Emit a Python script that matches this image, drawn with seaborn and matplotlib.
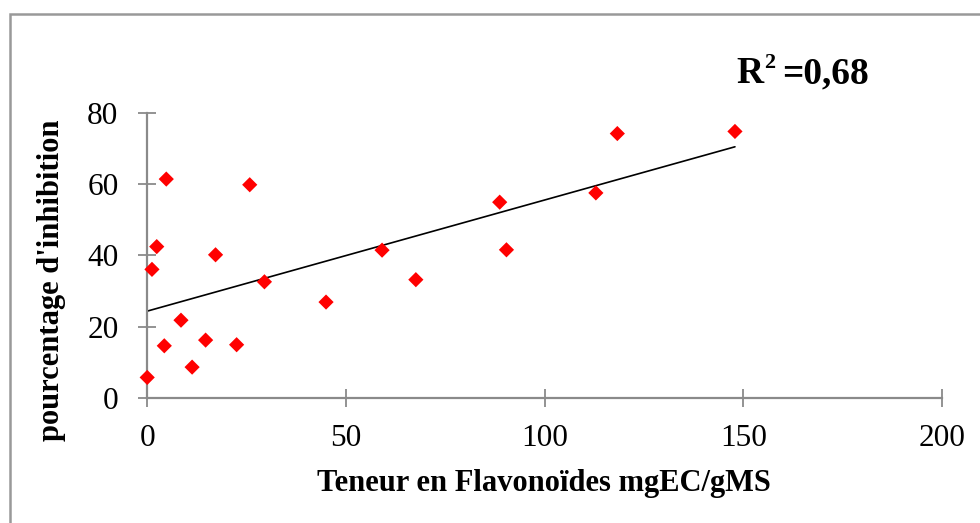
import numpy as np
import pandas as pd
import matplotlib
matplotlib.use("Agg")
import matplotlib.pyplot as plt
from matplotlib.patches import Rectangle
import seaborn as sns

# Flavonoid content (mgEC/gMS) and inhibition percentage for each extract
flavonoides = [0.0, 1.2, 2.4, 4.3, 4.8, 8.5, 11.3, 14.7, 17.2, 22.5, 25.8, 29.5,
               45.0, 59.1, 67.6, 88.7, 90.4, 112.9, 118.3, 147.9]
inhibition = [5.7, 36.1, 42.5, 14.6, 61.5, 21.8, 8.6, 16.2, 40.2, 14.9, 59.9, 32.6,
              26.9, 41.5, 33.2, 55.0, 41.6, 57.6, 74.3, 74.9]
x_ticks = [0, 50, 100, 150, 200]
y_ticks = [0, 20, 40, 60, 80]
r2_value = "=0,68"

df = pd.DataFrame({"flavonoides": flavonoides, "inhibition": inhibition})

sns.set_theme(style="white")
plt.rcParams["font.family"] = ["Liberation Serif", "DejaVu Serif"]

W, H = 980, 523
fig = plt.figure(figsize=(W / 100, H / 100), dpi=100)
ax = fig.add_axes([147.2 / W, 1 - 397.7 / H, (942 - 147.2) / W, (397.7 - 113.3) / H])


def fx(px):
    return px / W


def fy(py):
    return 1 - py / H


# linear trend line over the observed range
slope, intercept = np.polyfit(df["flavonoides"], df["inhibition"], 1)
xs = np.array([df["flavonoides"].min(), df["flavonoides"].max()])
ax.plot(xs, slope * xs + intercept, color="black", lw=1.2, zorder=2)

sns.scatterplot(data=df, x="flavonoides", y="inhibition", ax=ax, marker="D",
                color="#ff0000", edgecolor="none", s=60, zorder=3, clip_on=False)

ax.set_xlim(0, 200)
ax.set_ylim(0, 80)
ax.set_xticks(x_ticks)
ax.set_yticks(y_ticks)
ax.set_xticklabels([str(t) for t in x_ticks])
ax.set_yticklabels([str(t) for t in y_ticks])

for side in ["top", "right"]:
    ax.spines[side].set_visible(False)
for side in ["left", "bottom"]:
    ax.spines[side].set_color("#8a8a8a")
    ax.spines[side].set_linewidth(1.6)
ax.tick_params(axis="both", which="major", bottom=True, left=True,
               direction="inout", length=13.5, width=1.3,
               color="#8a8a8a", labelsize=22.5, labelcolor="black")
ax.tick_params(axis="x", pad=12)
ax.tick_params(axis="y", pad=14)

ax.set_xlabel("Teneur en Flavonoïdes mgEC/gMS", fontsize=22, fontweight="bold",
              color="black")
ax.set_ylabel("pourcentage d'inhibition", fontsize=22, fontweight="bold",
              color="black")
# place the axis titles explicitly (centre of each title)
ax.xaxis.label.set_va("center")
ax.xaxis.set_label_coords(fx(543.5), fy(483), transform=fig.transFigure)
ax.yaxis.label.set_va("center")
ax.yaxis.set_label_coords(fx(51), fy(280), transform=fig.transFigure)

# coefficient of determination
fig.text(fx(736), fy(83), "R", fontsize=27, fontweight="bold", ha="left",
         va="baseline", color="black")
fig.text(fx(764.5), fy(68.5), "2", fontsize=16, fontweight="bold", ha="left",
         va="baseline", color="black")
fig.text(fx(782), fy(83), r2_value, fontsize=27, fontweight="bold", ha="left",
         va="baseline", color="black")

# chart area border
fig.patches.append(Rectangle((fx(9.5), -0.05), 1.2, fy(14) + 0.05,
                             transform=fig.transFigure, fill=False,
                             edgecolor="#999999", lw=1.8, clip_on=False))

fig.savefig("out.png", dpi=100, facecolor="white")
